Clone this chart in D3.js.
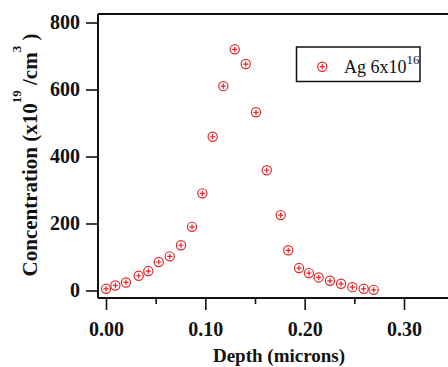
<!DOCTYPE html>
<html>
<head>
<meta charset="utf-8">
<script src="https://cdn.jsdelivr.net/npm/d3@7"></script>
<style>
  html, body { margin: 0; padding: 0; background: #fff; }
  svg { display: block; }
</style>
</head>
<body>
<svg id="chart" width="448" height="367"></svg>
<script>
// Ag implant profile
var depth = [0.000, 0.0094, 0.0201, 0.0329, 0.0426, 0.0531, 0.0642, 0.0755, 0.0866, 0.0970,
  0.1074, 0.1181, 0.1296, 0.1407, 0.1510, 0.1618, 0.1759, 0.1835, 0.1943, 0.2043,
  0.2141, 0.2255, 0.2366, 0.2480, 0.2594, 0.2695]
var conc = [5, 15, 24, 44, 58, 85, 102, 135, 190, 290,
  459, 610, 720, 676, 532, 359, 225, 120, 67, 52,
  39, 29, 20, 10, 5, 2]

var xTicks = [0, 0.1, 0.2, 0.3]
var xMinorTicks = [0.05, 0.15, 0.25]
var yTicks = [0, 200, 400, 600, 800]
var legendLabel = 'Ag 6x10'
var legendSup = '16'

var serif = '"Liberation Serif", "Times New Roman", serif'
var red = '#e3262b'

var svg = d3.select('#chart')
// window.top is read-only, so keep plot edges in their own object
var plot = { left: 98, right: 448, top: 14, bottom: 298 }

var x = d3.scaleLinear().domain([-0.00805, 0.3443]).range([plot.left, plot.right])
var y = d3.scaleLinear().domain([-22.4, 825.4]).range([plot.bottom, plot.top])

// frame top line
svg.append('line')
  .attr('x1', plot.left).attr('x2', plot.right)
  .attr('y1', plot.top).attr('y2', plot.top)
  .attr('stroke', '#111').attr('stroke-width', 2)

var yAxis = svg.append('g')
  .attr('transform', 'translate(' + plot.left + ',0)')
  .call(d3.axisLeft(y).tickValues(yTicks).tickSize(12).tickPadding(6).tickFormat(d3.format('d')))

var xAxis = svg.append('g')
  .attr('transform', 'translate(0,' + plot.bottom + ')')
  .call(d3.axisBottom(x).tickValues(xTicks).tickSize(12).tickPadding(12).tickFormat(d3.format('.2f')))

var xMinor = svg.append('g')
  .attr('transform', 'translate(0,' + plot.bottom + ')')
  .call(d3.axisBottom(x).tickValues(xMinorTicks).tickSize(6).tickFormat(''))
xMinor.select('.domain').remove()

svg.selectAll('.domain').attr('stroke', '#111').attr('stroke-width', 2)
svg.selectAll('.tick line').attr('stroke', '#111').attr('stroke-width', 1.6)
svg.selectAll('.tick text')
  .attr('font-family', serif)
  .attr('font-size', 20)
  .attr('font-weight', 'bold')
  .attr('fill', '#111')

// domain lines run edge to edge, no outer tick stubs
yAxis.select('.domain').attr('d', 'M0,' + plot.top + 'V' + plot.bottom)
xAxis.select('.domain').attr('d', 'M' + plot.left + ',0H' + plot.right)

var marker = function(g) {
  g.append('circle')
    .attr('r', 4.6)
    .attr('fill', 'none')
    .attr('stroke', red)
    .attr('stroke-width', 1.2)
  g.append('path')
    .attr('d', 'M-2.6,0H2.6M0,-2.6V2.6')
    .attr('stroke', red)
    .attr('stroke-width', 1.2)
}

svg.append('g').selectAll('g')
  .data(depth)
  .enter().append('g')
  .attr('transform', function(d, i) { return 'translate(' + x(d) + ',' + y(conc[i]) + ')' })
  .each(function() { marker(d3.select(this)) })

// axis titles
svg.append('text')
  .attr('x', 279)
  .attr('y', 362)
  .attr('text-anchor', 'middle')
  .attr('font-family', serif)
  .attr('font-size', 19)
  .attr('font-weight', 'bold')
  .attr('fill', '#111')
  .text('Depth (microns)')

var yTitle = svg.append('text')
  .attr('transform', 'translate(37,155) rotate(-90)')
  .attr('text-anchor', 'middle')
  .attr('font-family', serif)
  .attr('font-size', 21)
  .attr('font-weight', 'bold')
  .attr('fill', '#111')
yTitle.append('tspan').text('Concentration (x10')
yTitle.append('tspan').attr('dy', -16).attr('font-size', 13).text('19')
yTitle.append('tspan').attr('dy', 16).text(' /cm')
yTitle.append('tspan').attr('dy', -16).attr('font-size', 13).text('3')
yTitle.append('tspan').attr('dy', 16).text(' )')

// legend
var legend = svg.append('g')
legend.append('rect')
  .attr('x', 296.5).attr('y', 47)
  .attr('width', 123.5).attr('height', 34.5)
  .attr('fill', '#fff')
  .attr('stroke', '#111')
  .attr('stroke-width', 1.5)
legend.append('g')
  .attr('transform', 'translate(322.3,66.7)')
  .call(marker)
var legendText = legend.append('text')
  .attr('x', 344)
  .attr('y', 72.5)
  .attr('font-family', serif)
  .attr('font-size', 18)
  .attr('fill', '#111')
legendText.append('tspan').text(legendLabel)
legendText.append('tspan').attr('dy', -9).attr('font-size', 13).text(legendSup)
</script>
</body>
</html>
